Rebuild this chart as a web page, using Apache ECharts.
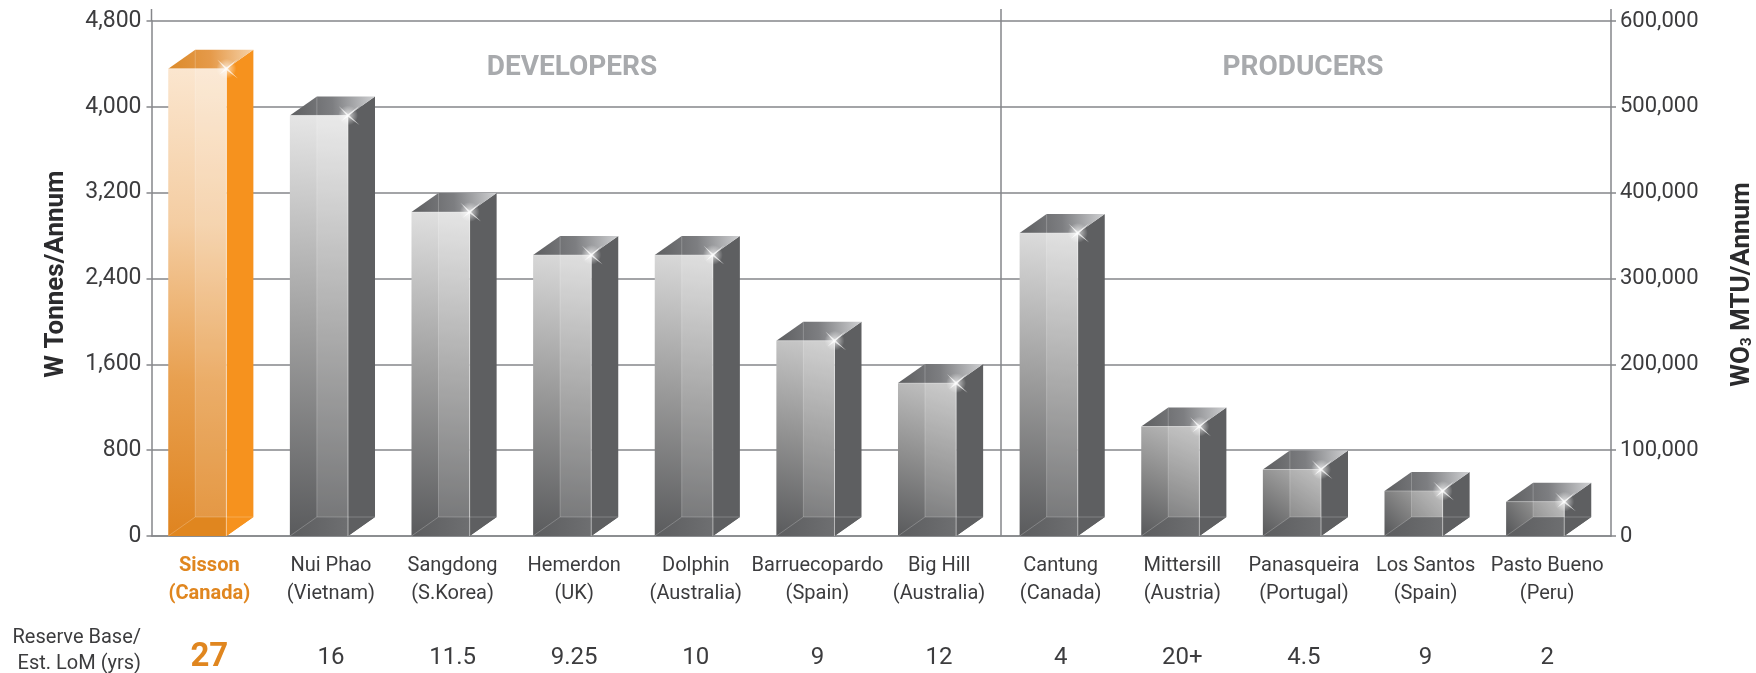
<!DOCTYPE html>
<html><head><meta charset="utf-8">
<style>html,body{margin:0;padding:0;background:#fff}#c{width:1756px;height:673px}</style>
<script src="https://cdn.jsdelivr.net/npm/echarts@6/dist/echarts.min.js"></script>
</head><body><div id="c"></div>
<script>
const mines = ['Sisson','Nui Phao','Sangdong','Hemerdon','Dolphin','Barruecopardo','Big Hill','Cantung','Mittersill','Panasqueira','Los Santos','Pasto Bueno'];
const regions = ['(Canada)','(Vietnam)','(S.Korea)','(UK)','(Australia)','(Spain)','(Australia)','(Canada)','(Austria)','(Portugal)','(Spain)','(Peru)'];
const tonnes = [4355,3920,3020,2620,2620,1820,1425,2825,1020,620,420,320];
const lom = ['27','16','11.5','9.25','10','9','12','4','20+','4.5','9','2'];

const FONT = 'Roboto, sans-serif', INK = '#3c3c3e', AX = '#85868a', ORANGE = '#e0861f';
const el = echarts.graphic;
const lg = (x,y,x2,y2,stops)=>new el.LinearGradient(x,y,x2,y2,stops.map((c,i)=>({offset:i/(stops.length-1),color:c})));
const grey = v=>{const h=Math.round(v).toString(16).padStart(2,'0');return '#'+h+h+h;};

function renderBar(params, api){
  const i = api.value(0), v = api.value(1);
  const [cx, yTop] = api.coord([i, v]);
  const y0 = api.coord([i, 0])[1];
  const band = api.size([1,0])[0];
  const w = band*0.478, dx = band*0.222, dy = 19;
  const xl = cx - (w+dx)/2 - 1.5, xr = xl + w, xb = xr + dx;
  const o = i === 0;
  const h = (y0 - yTop)/470;
  const sv = 170 + 60*Math.min(1,h*1.3);
  const poly = (pts, fill)=>({type:'polygon',shape:{points:pts},style:{fill},silent:true});
  const line = (a,b,c,lw)=>({type:'line',shape:{x1:a[0],y1:a[1],x2:b[0],y2:b[1]},style:{stroke:c,lineWidth:lw||1},silent:true});
  const ray = (px,py,len,ang,wd)=>{const a=ang*Math.PI/180,ca=Math.cos(a),sa=Math.sin(a);
    return poly([[px-sa*wd,py+ca*wd],[px+ca*len,py+sa*len],[px+sa*wd,py-ca*wd]],'rgba(255,255,255,0.75)');};
  const children = [];
  children.push(poly([[xr,yTop],[xb,yTop-dy],[xb,y0-dy],[xr,y0]], o?'#f6921e':'#5e5f61'));
  children.push(poly([[xl,yTop],[xl+dx,yTop-dy],[xb,yTop-dy],[xr,yTop]],
    o?lg(0,0.6,1,0.4,['#dc8a2a','#e59a4a','#f6d2a8']):lg(0,0.6,1,0.4,['#5e5f61','#7d7e81','#cfd0d2'])));
  children.push(poly([[xl,yTop],[xr,yTop],[xr,y0],[xl,y0]],
    o?lg(0.1,1,0.6,0,['#df8420','#e8a050','#f4cda2','#fbe6cf'])
     :lg(0.1,1,h<0.45?0.9:0.65,0,['#5a5b5d',grey(90+(sv-90)*0.5),grey(sv)])));
  children.push(poly([[xl+dx,yTop],[xr,yTop],[xr,y0-dy],[xl+dx,y0-dy]],'rgba(255,255,255,0.14)'));
  children.push(poly([[xl,y0],[xl+dx,y0-dy],[xr,y0-dy],[xr,y0]], o?'#e0861f':lg(0,0.5,1,0.5,['#5c5d5f','#6e6f71'])));
  children.push(poly([[xr,y0],[xr,y0-dy],[xb,y0-dy]], o?'#f6921e':'#5e5f61'));
  const ec = 'rgba(255,255,255,0.22)';
  children.push(line([xl+dx,yTop-dy],[xl+dx,y0-dy],ec));
  children.push(line([xl,y0],[xl+dx,y0-dy],ec));
  children.push(line([xl+dx,y0-dy],[xb,y0-dy],ec));
  children.push(line([xr,yTop],[xr,y0],'rgba(255,255,255,0.5)'));
  children.push(line([xl,yTop],[xr,yTop],'rgba(255,255,255,0.3)'));
  children.push({type:'circle',shape:{cx:xr,cy:yTop,r:10},style:{fill:new el.RadialGradient(0.5,0.5,0.5,[{offset:0,color:'rgba(255,255,255,0.7)'},{offset:1,color:'rgba(255,255,255,0)'}])},silent:true});
  children.push(ray(xr,yTop,15,-40,1), ray(xr,yTop,15,40,1), ray(xr,yTop,13,-135,1), ray(xr,yTop,9,140,1));
  return {type:'group',children};
}

const chart = echarts.init(document.getElementById('c'),null,{renderer:'canvas'});
const GRID = {left:151.5,right:145,top:21,bottom:137,outerBoundsMode:'none',containLabel:false};
const axisBase = {min:0,type:'value',
  axisLine:{show:true,lineStyle:{color:AX,width:1.5}},
  axisTick:{show:true,length:5,lineStyle:{color:AX,width:1.5}},
  nameLocation:'middle',nameRotate:90,
  nameTextStyle:{fontFamily:FONT,fontWeight:'bold',fontSize:26,color:'#2b2b2d'}};
chart.setOption({
  animation:false,
  backgroundColor:'#fff',
  grid:GRID,
  xAxis:[{
    type:'category',
    data:mines.map((m,i)=>i===0?{value:m+'\n'+regions[i],textStyle:{color:ORANGE,fontWeight:'bold'}}:m+'\n'+regions[i]),
    axisLine:{lineStyle:{color:AX,width:1.5}},
    axisTick:{length:10,alignWithLabel:false,lineStyle:{color:AX,width:1.5}},
    axisLabel:{margin:16,interval:0,fontFamily:FONT,fontSize:20,lineHeight:28,color:INK,padding:[0,6,0,0]}
  },{
    type:'category',position:'bottom',offset:90,
    data:lom.map((m,i)=>i===0?{value:m,textStyle:{color:ORANGE,fontWeight:'bold',fontSize:33}}:m),
    axisLine:{show:false},axisTick:{show:false},
    axisLabel:{margin:17,interval:0,fontFamily:FONT,fontSize:24,lineHeight:30,color:INK,padding:[0,6,0,0]}
  }],
  yAxis:[Object.assign({},axisBase,{
    max:4800,interval:800,position:'left',name:'W Tonnes/Annum',nameGap:82,
    nameTextStyle:Object.assign({},axisBase.nameTextStyle,{padding:[0,0,0,9]}),
    splitLine:{show:true,lineStyle:{color:AX,width:1.5}},
    axisLabel:{margin:10,fontFamily:FONT,fontSize:23,color:INK,formatter:v=>v.toLocaleString('en-US')}
  }),Object.assign({},axisBase,{
    max:600000,interval:100000,position:'right',name:'{a|WO}{s|3}{a| MTU/Annum}',nameGap:118,
    nameTextStyle:Object.assign({},axisBase.nameTextStyle,{padding:[0,12,0,0],rich:{
      a:{fontFamily:FONT,fontWeight:'bold',fontSize:26,color:'#2b2b2d'},
      s:{fontFamily:FONT,fontWeight:'bold',fontSize:15,color:'#2b2b2d',verticalAlign:'bottom',lineHeight:26}}}),
    splitLine:{show:false},
    axisLabel:{margin:9,fontFamily:FONT,fontSize:22,color:INK,formatter:v=>v.toLocaleString('en-US')}
  })],
  series:[{
    type:'custom',xAxisIndex:0,yAxisIndex:0,z:5,clip:false,
    data:tonnes.map((v,i)=>[i,v]),
    encode:{x:0,y:1},
    renderItem:renderBar
  }],
  graphic:[
    {type:'line',z:3,shape:{x1:151.5,y1:9,x2:151.5,y2:21},style:{stroke:AX,lineWidth:1.5}},
    {type:'line',z:3,shape:{x1:1611,y1:9,x2:1611,y2:21},style:{stroke:AX,lineWidth:1.5}},
    {type:'line',z:3,shape:{x1:1001,y1:9,x2:1001,y2:536},style:{stroke:AX,lineWidth:1.5}},
    {type:'text',x:572,y:68,style:{text:'DEVELOPERS',fontFamily:FONT,fontWeight:'bold',fontSize:28,fill:'#a8aaad',align:'center',verticalAlign:'middle'}},
    {type:'text',x:1303,y:68,style:{text:'PRODUCERS',fontFamily:FONT,fontWeight:'bold',fontSize:28,fill:'#a8aaad',align:'center',verticalAlign:'middle'}},
    {type:'text',x:141,y:651,style:{text:'Reserve Base/\nEst. LoM (yrs)',fontFamily:FONT,fontSize:20,lineHeight:26,fill:INK,align:'right',verticalAlign:'middle'}}
  ]
});
</script></body></html>
